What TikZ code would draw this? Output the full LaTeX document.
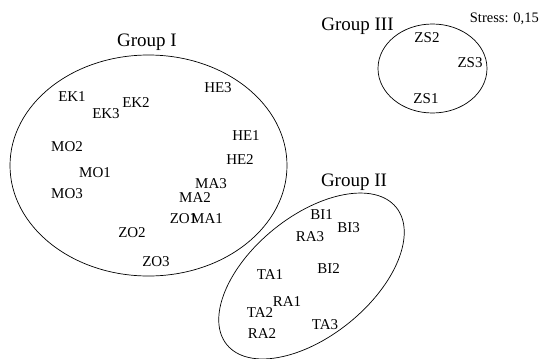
\documentclass[tikz,border=0pt]{standalone}
\usepackage{fontspec}
\setmainfont{Liberation Serif}
\usetikzlibrary{shapes.geometric}
\begin{document}
\begin{tikzpicture}
	[x=1pt, y=-1pt,
	item/.style ={font=\fontsize{15}{15}\selectfont, anchor=base, inner sep=0pt},
	grp/.style ={font=\fontsize{19}{19}\selectfont, anchor=base, inner sep=0pt},
	cluster/.style ={draw, ellipse, inner sep=0pt, line width=0.7pt}]
	\useasboundingbox (0,0) rectangle (539,359);
	\node[cluster, minimum width=277, minimum height=221] (g1) at (148.5,165.5) {};
	\node[cluster, minimum width=218, minimum height=120, rotate=39] (g2) at (311.5,276) {};
	\node[cluster, minimum width=109, minimum height=89] (g3) at (432.5,68.5) {};
	\node[grp] (l1) at (147,46) {Group I};
	\node[grp] (l2) at (354,186) {Group II};
	\node[grp] (l3) at (357.5,30) {Group III};
	\node[item, font=\fontsize{14.5}{14.5}\selectfont, anchor=base east] (stress) at (539,22) {Stress: 0,15};
	\node[item] (EK1) at (72,101) {EK1};
	\node[item] (EK2) at (136,107) {EK2};
	\node[item] (EK3) at (106,118) {EK3};
	\node[item] (HE3) at (218,92) {HE3};
	\node[item] (HE1) at (246,140) {HE1};
	\node[item] (HE2) at (240,164) {HE2};
	\node[item] (MO2) at (67,151) {MO2};
	\node[item] (MO1) at (95,177) {MO1};
	\node[item] (MO3) at (67,198) {MO3};
	\node[item] (MA3) at (211,188.5) {MA3};
	\node[item] (MA2) at (195,202.5) {MA2};
	\node[item] (ZO1) at (183.5,223) {ZO1};
	\node[item] (MA1) at (207,223) {MA1};
	\node[item] (ZO2) at (132,237) {ZO2};
	\node[item] (ZO3) at (156,266) {ZO3};
	\node[item] (BI1) at (321.5,219) {BI1};
	\node[item] (BI3) at (348.5,232) {BI3};
	\node[item] (RA3) at (310,241) {RA3};
	\node[item] (TA1) at (270,279) {TA1};
	\node[item] (BI2) at (328.5,273) {BI2};
	\node[item] (RA1) at (287,306) {RA1};
	\node[item] (TA2) at (260,317) {TA2};
	\node[item] (RA2) at (262,338) {RA2};
	\node[item] (TA3) at (325,329) {TA3};
	\node[item] (ZS2) at (427,42) {ZS2};
	\node[item] (ZS3) at (470,67) {ZS3};
	\node[item] (ZS1) at (426,103) {ZS1};
\end{tikzpicture}
\end{document}
